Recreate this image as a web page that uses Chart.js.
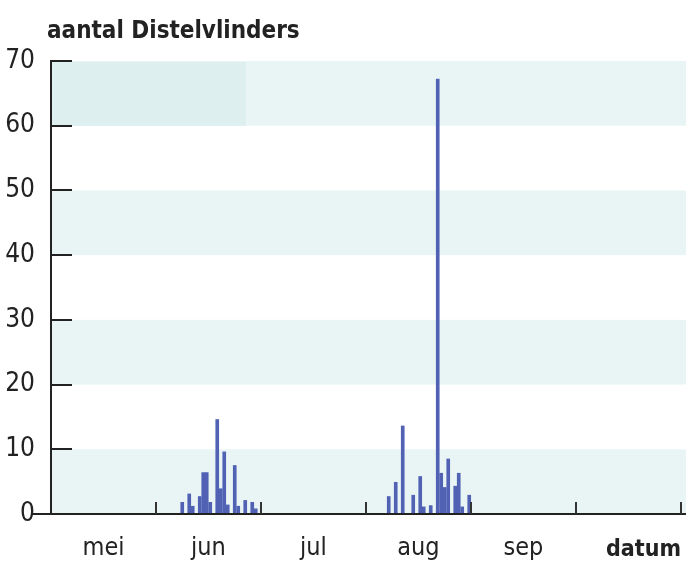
<!DOCTYPE html>
<html>
<head>
<meta charset="utf-8">
<script src="https://cdn.jsdelivr.net/npm/chart.js@4.4.1/dist/chart.umd.min.js"></script>
<style>
  html, body { margin: 0; padding: 0; background: #fff; }
  #wrap { width: 686px; height: 563px; }
</style>
</head>
<body>
<div id="wrap"><canvas id="chart1"></canvas></div>
<script>
const title = 'aantal Distelvlinders';
const axisTitle = 'datum';
const monthLabels = ['mei', 'jun', 'jul', 'aug', 'sep'];
const junDays = [8, 10, 11, 13, 14, 15, 16, 18, 19, 20, 21, 23, 24, 26, 28, 29];
const junCounts = [1.8, 3.1, 1.2, 2.7, 6.4, 6.4, 1.8, 14.6, 3.9, 9.6, 1.4, 7.5, 1.2, 2.1, 1.8, 0.8];
const augDays = [7, 9, 11, 14, 16, 17, 19, 21, 22, 23, 24, 26, 27, 28, 30];
const augCounts = [2.7, 4.9, 13.6, 2.9, 5.8, 1.1, 1.3, 67.2, 6.3, 4.1, 8.5, 4.3, 6.3, 1.1, 2.9];

const FONT = "'DejaVu Sans Condensed', 'DejaVu Sans', sans-serif";
const INK = '#222222';

// x value: month index (mei = 0) plus position of the day inside the month
function toX(month, day) { return month + (day - 0.5) / 30; }

const points = [];
junDays.forEach((d, i) => points.push({ x: toX(1, d), y: junCounts[i] }));
augDays.forEach((d, i) => points.push({ x: toX(3, d), y: augCounts[i] }));

const decor = {
  id: 'decor',
  beforeDatasetsDraw(chart) {
    const { ctx, chartArea: a, scales: { x, y } } = chart;
    ctx.save();
    ctx.fillStyle = '#e9f5f5';
    for (let v = 0; v < 70; v += 20) {
      const t = y.getPixelForValue(v + 10), b = y.getPixelForValue(v);
      ctx.fillRect(a.left, t, a.right - a.left, b - t);
    }
    // darker patch top left
    ctx.fillStyle = '#ddefef';
    const t = y.getPixelForValue(70) + 1, b = y.getPixelForValue(60);
    ctx.fillRect(a.left, t, x.getPixelForValue(1.857) - a.left, b - t);
    ctx.restore();
  },
  afterDatasetsDraw(chart) {
    const { ctx, chartArea: a, scales: { x, y } } = chart;
    ctx.save();
    ctx.strokeStyle = INK;
    ctx.lineWidth = 2;
    // x axis line, runs a bit left of the y axis
    ctx.beginPath();
    ctx.moveTo(33, a.bottom);
    ctx.lineTo(a.right, a.bottom);
    ctx.stroke();
    // y axis line
    ctx.beginPath();
    ctx.moveTo(a.left, a.top - 1);
    ctx.lineTo(a.left, a.bottom);
    ctx.stroke();
    // y tick marks pointing inwards
    for (let v = 0; v <= 70; v += 10) {
      const py = Math.round(y.getPixelForValue(v));
      ctx.beginPath();
      ctx.moveTo(a.left, py);
      ctx.lineTo(a.left + 21, py);
      ctx.stroke();
    }
    // x tick marks at month boundaries, pointing up
    ctx.strokeStyle = '#333333';
    for (let m = 1; m <= 6; m++) {
      const px = Math.round(x.getPixelForValue(m));
      ctx.beginPath();
      ctx.moveTo(px, a.bottom);
      ctx.lineTo(px, a.bottom - 12);
      ctx.stroke();
    }
    ctx.fillStyle = INK;
    ctx.textBaseline = 'alphabetic';
    // title
    ctx.font = 'bold 24px ' + FONT;
    ctx.textAlign = 'left';
    ctx.fillText(title, 47, 38);
    // x axis title, right end of the axis
    ctx.font = 'bold 23px ' + FONT;
    ctx.textAlign = 'right';
    ctx.fillText(axisTitle, x.getPixelForValue(6), 556);
    ctx.restore();
  }
};

new Chart(document.getElementById('chart1'), {
  type: 'bar',
  data: {
    datasets: [{
      data: points,
      backgroundColor: '#5161b4',
      borderWidth: 0,
      barThickness: 3
    }]
  },
  options: {
    responsive: true,
    maintainAspectRatio: false,
    animation: false,
    layout: { padding: { top: 61, left: 0, right: 0, bottom: 0 } },
    plugins: { legend: { display: false }, tooltip: { enabled: false } },
    scales: {
      x: {
        type: 'linear',
        offset: false,
        min: 0,
        max: 6.048,
        grid: { display: false, drawTicks: false, offset: false },
        border: { display: false },
        afterBuildTicks: s => { s.ticks = monthLabels.map((l, i) => ({ value: i + 0.5 })); },
        afterFit: s => { s.height = 49; s.paddingLeft = 0; s.paddingRight = 0; },
        ticks: {
          autoSkip: false,
          maxRotation: 0,
          padding: 19,
          color: INK,
          font: { family: FONT, size: 25 },
          callback: (v, i) => monthLabels[i]
        }
      },
      y: {
        min: 0,
        max: 70,
        grid: { display: false, drawTicks: false },
        border: { display: false },
        afterFit: s => { s.width = 51; },
        ticks: {
          stepSize: 10,
          padding: 16,
          color: INK,
          font: { family: FONT, size: 26 }
        }
      }
    }
  },
  plugins: [decor]
});
</script>
</body>
</html>
